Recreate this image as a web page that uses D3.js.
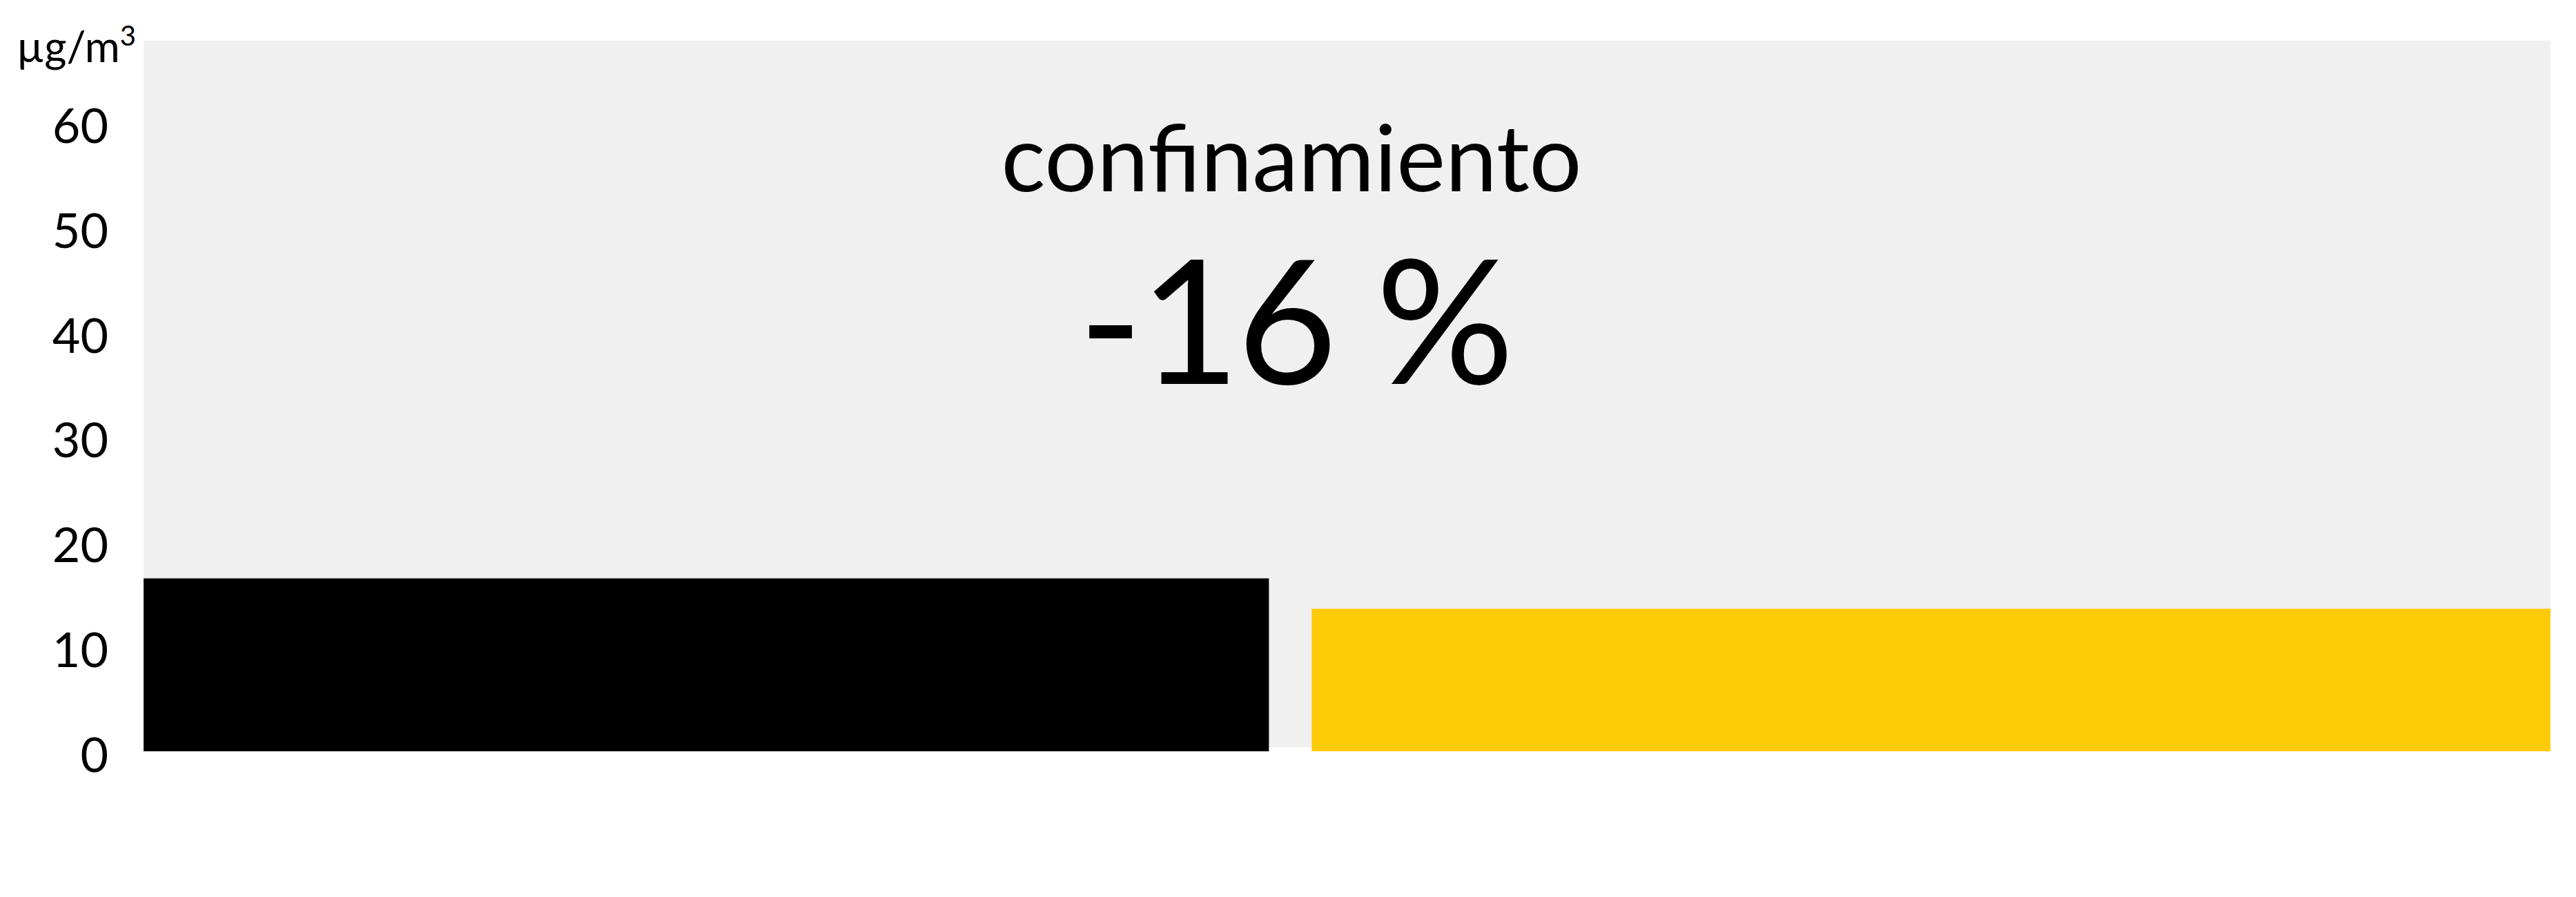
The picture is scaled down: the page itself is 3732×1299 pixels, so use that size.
<!DOCTYPE html>
<html>
<head>
<meta charset="utf-8" />
<title>confinamiento</title>
<script src="https://d3js.org/d3.v7.min.js"></script>
<style>
  body { margin: 0; background: #fff; }
  text { font-family: Lato, "Open Sans", sans-serif; fill: #000; }
</style>
</head>
<body>
<div id="chart"></div>
<script>
// periods: before and during lockdown, width follows number of days
var periods = ["antes", "confinamiento"];
var periodDays = [91, 100];
var no2Values = [16.5, 13.6];
var yTicks = [0, 10, 20, 30, 40, 50, 60];
var unitLabel = "µg/m";
var titleLabel = "confinamiento";
var changeLabel = "-16 %";

var width = 3732, height = 1299;
var plotLeft = 208, plotRight = 3695, plotTop = 59, plotBase = 1088;
var gap = 62;
var yMax = 67.8;

var svg = d3.select("#chart").append("svg")
  .attr("width", width)
  .attr("height", height);

var x = d3.scaleLinear().domain([0, d3.sum(periodDays)]).range([plotLeft, plotRight]);
var y = d3.scaleLinear().domain([0, yMax]).range([plotBase, plotTop]);
var colour = d3.scaleOrdinal().domain(periods).range(["#000000", "#ffca08"]);

var starts = [0].concat(Array.from(d3.cumsum(periodDays)));

// grey plot area
svg.append("rect")
  .attr("x", x(0))
  .attr("y", y(yMax))
  .attr("width", x(d3.sum(periodDays)) - x(0))
  .attr("height", y(0) - y(yMax) - 6)
  .attr("fill", "#f0f0f0");

svg.selectAll(".bar")
  .data(periods)
  .enter().append("rect")
  .attr("class", "bar")
  .attr("x", function(d, i){ return x(starts[i]) + (i > 0 ? gap / 2 : 0); })
  .attr("width", function(d, i){
    var w = x(starts[i + 1]) - x(starts[i]);
    if (i > 0) w -= gap / 2;
    if (i < periods.length - 1) w -= gap / 2;
    return w;
  })
  .attr("y", function(d, i){ return y(no2Values[i]); })
  .attr("height", function(d, i){ return y(0) - y(no2Values[i]); })
  .attr("fill", function(d){ return colour(d); });

// y axis, labels only
var yAxis = d3.axisLeft(y).tickValues(yTicks).tickSize(0).tickPadding(0);
var gy = svg.append("g")
  .attr("transform", "translate(157,0)")
  .call(yAxis);
gy.select(".domain").remove();
gy.selectAll("text")
  .attr("dy", "0.36em")
  .attr("y", 4)
  .style("font-family", "Lato")
  .style("font-size", "70px")
  .attr("fill", "#000");

var unit = svg.append("text")
  .attr("x", 197)
  .attr("y", 90)
  .attr("text-anchor", "end")
  .style("font-size", "62px");
unit.append("tspan").text(unitLabel);
unit.append("tspan").attr("dy", -24).style("font-size", "40px").text("3");

svg.append("text")
  .attr("x", 1871)
  .attr("y", 277)
  .attr("text-anchor", "middle")
  .style("font-size", "134px")
  .text(titleLabel);

svg.append("text")
  .attr("x", 1876)
  .attr("y", 556)
  .attr("text-anchor", "middle")
  .style("font-size", "250px")
  .style("letter-spacing", "-4px")
  .text(changeLabel);
</script>
</body>
</html>
